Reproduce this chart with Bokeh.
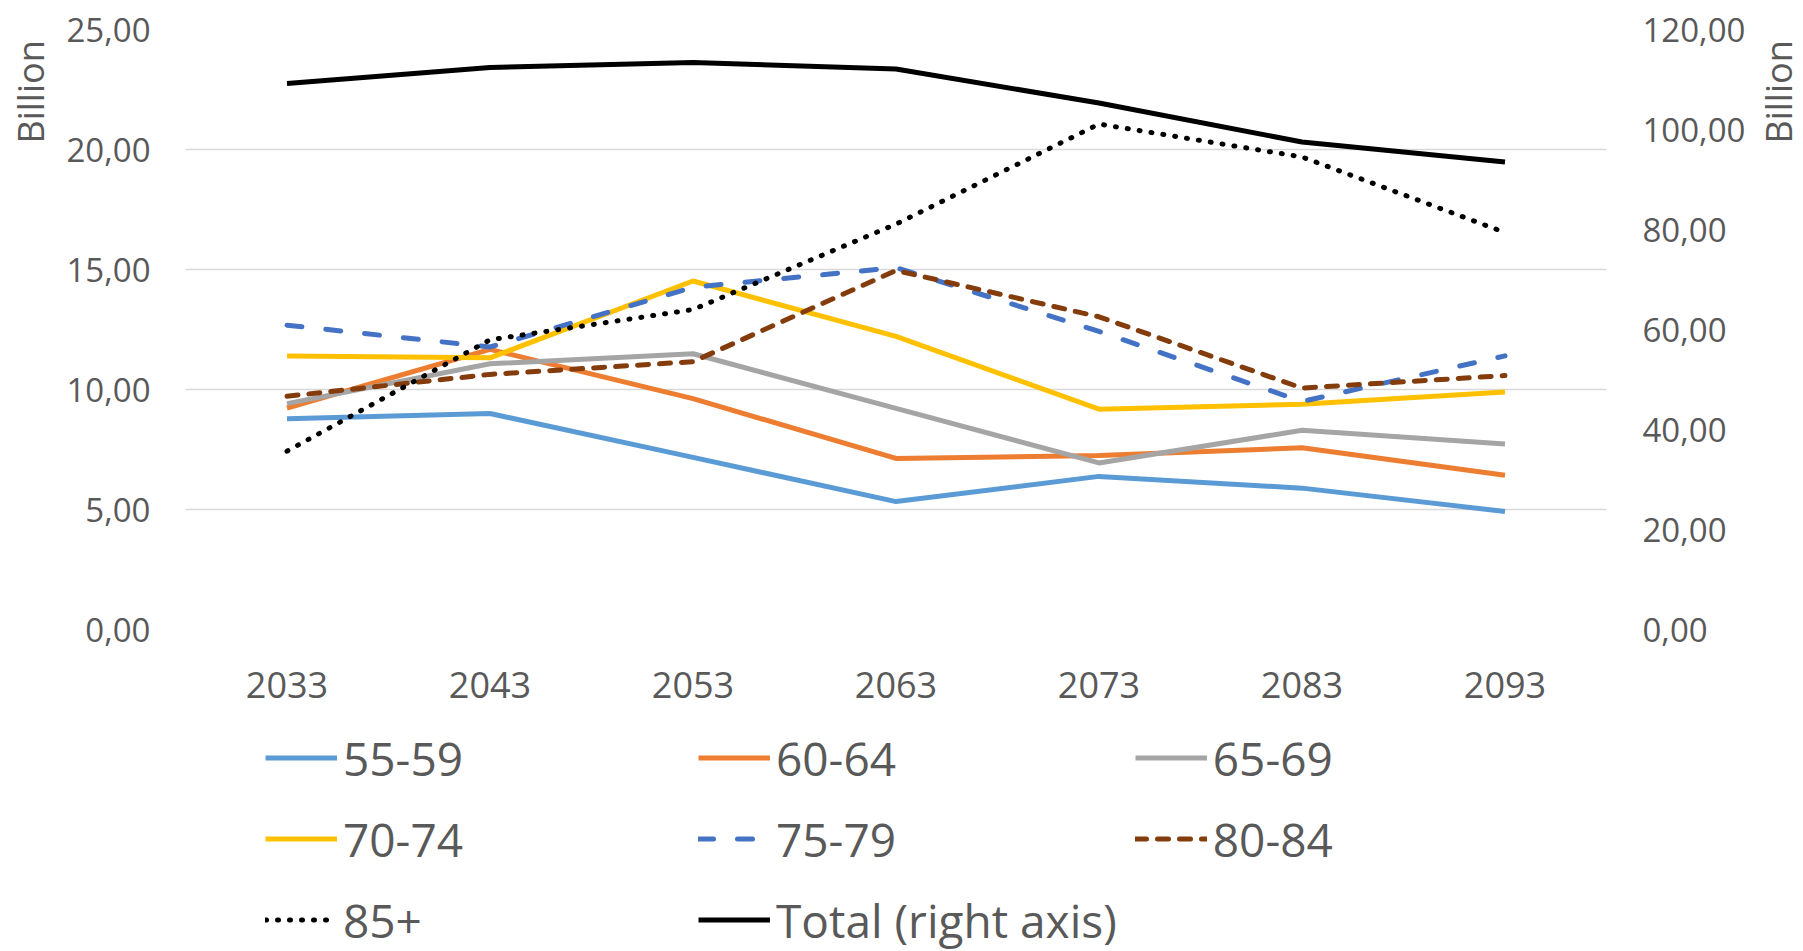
import math
from bokeh.plotting import figure
from bokeh.layouts import column, row
from bokeh.models import (Range1d, LinearAxis, FactorRange, Legend, LegendItem,
                          CustomJSTickFormatter, FixedTicker, Label)
from bokeh.embed import file_html
from bokeh.resources import INLINE

years = ["2033", "2043", "2053", "2063", "2073", "2083", "2093"]
s55_59 = [8.78, 9.00, 7.17, 5.33, 6.38, 5.89, 4.92]
s60_64 = [9.23, 11.67, 9.62, 7.13, 7.25, 7.57, 6.43]
s65_69 = [9.41, 11.07, 11.49, 9.21, 6.94, 8.30, 7.73]
s70_74 = [11.40, 11.32, 14.52, 12.21, 9.18, 9.39, 9.90]
s75_79 = [12.68, 11.77, 14.26, 15.08, 12.42, 9.50, 11.40]
s80_84 = [9.72, 10.63, 11.16, 14.96, 13.03, 10.06, 10.58]
s85_plus = [7.43, 12.07, 13.33, 16.89, 21.06, 19.69, 16.54]
total = [109.2, 112.4, 113.4, 112.1, 105.3, 97.5, 93.5]

labels = ["55-59", "60-64", "65-69", "70-74", "75-79", "80-84", "85+", "Total (right axis)"]
left_ticks = [0, 5, 10, 15, 20, 25]
right_ticks = [0, 20, 40, 60, 80, 100, 120]
unit = "Billion"

TEXT = "#595959"
FONT = "Open Sans"
TOP_H = 724
LW, RW = 63, 54

p = figure(x_range=FactorRange(*years), y_range=Range1d(0, 25),
           width=1803 - LW - RW, height=TOP_H, output_backend="svg",
           toolbar_location=None,
           min_border_left=183 - LW, min_border_right=1803 - RW - 1606,
           min_border_top=29, min_border_bottom=TOP_H - 629)
p.outline_line_color = None
p.background_fill_color = "white"
p.border_fill_color = "white"

p.extra_y_ranges = {"right": Range1d(0, 120)}

JS = "return tick.toFixed(2).replace('.', ',');"


def style_y(ax):
    ax.formatter = CustomJSTickFormatter(code=JS)
    ax.major_label_text_font_size = "33px"
    ax.major_label_text_color = TEXT
    ax.major_label_text_font = FONT
    ax.major_label_standoff = 35
    ax.axis_line_color = None
    ax.major_tick_line_color = None
    ax.minor_tick_line_color = None
    ax.major_tick_out = 0
    ax.major_tick_in = 0


ya = p.yaxis[0]
ya.ticker = FixedTicker(ticks=left_ticks)
style_y(ya)

ra = LinearAxis(y_range_name="right", ticker=FixedTicker(ticks=right_ticks))
style_y(ra)
ra.major_label_standoff = 36
p.add_layout(ra, "right")

xa = p.xaxis[0]
xa.major_label_text_font_size = "36px"
xa.major_label_text_color = TEXT
xa.major_label_text_font = FONT
xa.major_label_standoff = 42
xa.axis_line_color = None
xa.major_tick_line_color = None
xa.major_tick_out = 0
xa.major_tick_in = 0

p.xgrid.grid_line_color = None
p.ygrid.ticker = FixedTicker(ticks=left_ticks)
p.ygrid.grid_line_color = "#D9D9D9"
p.ygrid.grid_line_width = 1.5

W = 5
styles = [
    dict(line_color="#5B9BD5"),
    dict(line_color="#ED7D31"),
    dict(line_color="#A5A5A5"),
    dict(line_color="#FFC000"),
    dict(line_color="#4472C4", line_dash="15 24", line_cap="round"),
    dict(line_color="#843C0C", line_dash="11 11", line_cap="round"),
    dict(line_color="#000000", line_dash="1 11", line_cap="round"),
    dict(line_color="#000000"),
]
series = [s55_59, s60_64, s65_69, s70_74, s75_79, s80_84, s85_plus]
for vals, st in zip(series, styles[:7]):
    p.line(years, vals, line_width=W, **st)
p.line(years, total, line_width=W, y_range_name="right", **styles[7])


def side_fig(width, xpos):
    f = figure(width=width, height=TOP_H, output_backend="svg", toolbar_location=None,
               x_range=Range1d(0, width), y_range=Range1d(0, 25),
               x_axis_location=None, y_axis_location=None,
               min_border_left=0, min_border_right=0, min_border_top=29,
               min_border_bottom=TOP_H - 629)
    f.outline_line_color = None
    f.xgrid.visible = False
    f.ygrid.visible = False
    f.border_fill_color = "white"
    f.add_layout(Label(x=xpos, y=22.4, text=unit, angle=math.pi / 2,
                       text_align="center", text_baseline="middle",
                       text_font_size="36px", text_color=TEXT, text_font=FONT))
    return f


lf = side_fig(LW, 30)
rf = side_fig(RW, 29)

# legend strip below the chart
lg = figure(width=1803, height=951 - TOP_H, output_backend="svg", toolbar_location=None,
            x_range=FactorRange(*years), y_range=Range1d(1000, 1001),
            x_axis_location=None, y_axis_location=None,
            min_border_left=183, min_border_right=197, min_border_top=0,
            min_border_bottom=0)
lg.outline_line_color = None
lg.xgrid.visible = False
lg.ygrid.visible = False
lg.border_fill_color = "white"

items = []
for lab, vals, st in zip(labels, series + [total], styles):
    r = lg.line(years, vals, line_width=W, **st)
    items.append(LegendItem(label=lab, renderers=[r]))

legend = Legend(items=items, orientation="horizontal", ncols=3, location=(82, 0))
legend.label_text_font_size = "46px"
legend.label_text_color = TEXT
legend.label_text_font = FONT
legend.glyph_width = 72
legend.glyph_height = 63
legend.label_standoff = 6
legend.label_width = 337
legend.spacing = 18
legend.padding = 0
legend.margin = 0
legend.border_line_color = None
legend.background_fill_alpha = 0
lg.add_layout(legend)

layout = column(row(lf, p, rf, spacing=0), lg, spacing=0)
open("out.html", "w").write(file_html(layout, INLINE))
